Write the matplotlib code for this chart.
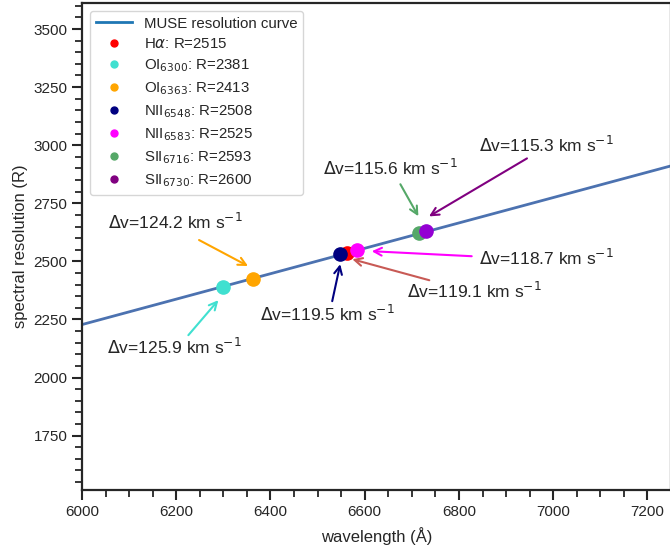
import matplotlib
matplotlib.use("Agg")
import matplotlib.pyplot as plt
from matplotlib.lines import Line2D
from matplotlib.ticker import MultipleLocator

# --- data ---
curve_wave = [6000, 6625, 7250]
curve_R = [2228, 2570, 2911]

line_names = [r"H$\alpha$", r"OI$_{6300}$", r"OI$_{6363}$", r"NII$_{6548}$",
              r"NII$_{6583}$", r"SII$_{6716}$", r"SII$_{6730}$"]
line_wave = [6563, 6300, 6363, 6548, 6583, 6716, 6730]
line_R_label = [2515, 2381, 2413, 2508, 2525, 2593, 2600]
line_R_plot = [2535, 2389, 2424, 2531, 2548, 2621, 2629]
delta_v = [119.1, 125.9, 124.2, 119.5, 118.7, 115.6, 115.3]

legend_colors = ["red", "turquoise", "orange", "navy", "magenta", "#55a868", "purple"]
point_colors = ["red", "turquoise", "orange", "navy", "magenta", "#55a868", "darkviolet"]
arrow_colors = ["#c85a55", "turquoise", "orange", "navy", "magenta", "#55a868", "purple"]

# layout: offsets in pixels relative to each point (x right, y up)
text_off = [(60, -38), (-116, -60), (-145, 57), (-80, -60), (122, -8), (-96, 65), (53, 86)]
tail_off = [(82, -27), (-35, -48), (-54, 39), (-8, -47), (115, -6), (-19, 49), (101, 73)]
head_off = [(5, -6), (-5, -13), (-5, 13), (0, -10), (15, -1), (-1, 17), (3, 15)]

text_color = "#262626"
plt.rcParams["font.family"] = ["Liberation Sans", "DejaVu Sans"]

fig = plt.figure(figsize=(6.7, 5.52), dpi=100)
ax = fig.add_axes([82 / 670, 1 - 490 / 552, 589 / 670, 487 / 552])

ax.set_xlim(6000, 7250)
ax.set_ylim(1516, 3612)

ax.plot(curve_wave, curve_R, color="#4c72b0", lw=2, zorder=2)

order = range(len(line_wave))
for i in order:
    ax.plot(line_wave[i], line_R_plot[i], "o", color=point_colors[i], ms=9.5, zorder=3)

for i in order:
    x0, y0 = ax.transData.transform((line_wave[i], line_R_plot[i]))
    ax.annotate("", xy=(x0 + head_off[i][0], y0 + head_off[i][1]), xycoords="figure pixels",
                xytext=(x0 + tail_off[i][0], y0 + tail_off[i][1]), textcoords="figure pixels",
                arrowprops=dict(arrowstyle="->", color=arrow_colors[i], lw=1.5,
                                shrinkA=0, shrinkB=0, mutation_scale=14))
    ax.annotate(r"$\Delta$v=%.1f km s$^{-1}$" % delta_v[i],
                xy=(line_wave[i], line_R_plot[i]), xytext=text_off[i],
                textcoords="offset pixels", ha="left", va="center",
                fontsize=12.5, color=text_color)

handles = [Line2D([], [], color="#1f77b4", lw=2)]
labels = ["MUSE resolution curve"]
for i in order:
    handles.append(Line2D([], [], ls="", marker="o", ms=5, color=legend_colors[i]))
    labels.append("%s: R=%d" % (line_names[i], line_R_label[i]))
leg = ax.legend(handles, labels, loc="upper left", fontsize=10.8, frameon=True,
                borderaxespad=0.5, handlelength=2.4, labelspacing=0.42)
leg.get_frame().set_edgecolor("#cccccc")
for t in leg.get_texts():
    t.set_color(text_color)

ax.xaxis.set_major_locator(MultipleLocator(200))
ax.xaxis.set_minor_locator(MultipleLocator(50))
ax.yaxis.set_major_locator(MultipleLocator(250))
ax.yaxis.set_minor_locator(MultipleLocator(50))
ax.tick_params(which="major", length=7, width=1.5, colors=text_color, labelsize=11)
ax.tick_params(which="minor", length=5, width=1.3, colors=text_color)
for s in ax.spines.values():
    s.set_linewidth(1.6)
    s.set_color(text_color)
ax.set_xlabel("wavelength (Å)", fontsize=12, color=text_color, labelpad=6)
ax.set_ylabel("spectral resolution (R)", fontsize=12, color=text_color)

fig.savefig("out.png", dpi=100)
